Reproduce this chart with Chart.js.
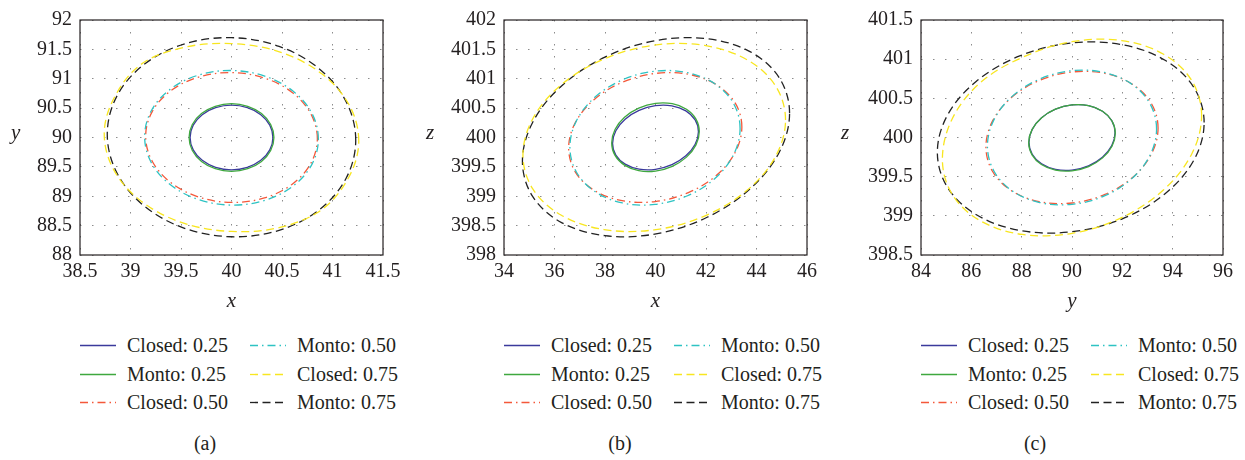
<!DOCTYPE html>
<html>
<head>
<meta charset="utf-8">
<script src="https://cdn.jsdelivr.net/npm/chart.js@4.4.1/dist/chart.umd.min.js"></script>
<style>
  body { margin: 0; background: #fff; width: 1245px; height: 460px; overflow: hidden;
         font-family: "Liberation Serif", "DejaVu Serif", serif; color: #231f20; }
  .panel { position: absolute; top: 0; width: 415px; height: 460px; }
  .panel canvas { position: absolute; left: 0; top: 0; }
  .ylab { position: absolute; left: 11px; top: 122px; font-style: italic; font-size: 21px; line-height: 21px; }
  .legend { position: absolute; top: 331px; font-size: 20px; }
  .item { position: absolute; white-space: nowrap; height: 28px; line-height: 28px; }
  .item svg { position: absolute; left: 0; top: 13px; }
  .item span { position: absolute; left: 47px; top: 0; }
  .cap { position: absolute; top: 429px; left: 175px; width: 60px; text-align: center; font-size: 20px; line-height: 28px; }
</style>
</head>
<body>
<div class="panel" id="pa" style="left:0px"></div>
<div class="panel" id="pb" style="left:415px"></div>
<div class="panel" id="pc" style="left:830px"></div>

<script>
// series labels (legend order: first column top to bottom, then second column)
const seriesNames = ['Closed: 0.25', 'Monto: 0.25', 'Closed: 0.50', 'Monto: 0.50', 'Closed: 0.75', 'Monto: 0.75'];

// ---- panel (a): x vs y ----
const aXTicks = [38.5, 39, 39.5, 40, 40.5, 41, 41.5];
const aYTicks = [88, 88.5, 89, 89.5, 90, 90.5, 91, 91.5, 92];
const aClosed025 = [[40.41,90.00],[40.379,90.21],[40.29,90.389],[40.157,90.508],[40.00,90.55],[39.843,90.508],[39.71,90.389],[39.621,90.21],[39.59,90.00],[39.621,89.79],[39.71,89.611],[39.843,89.492],[40.00,89.45],[40.157,89.492],[40.29,89.611],[40.379,89.79]];
const aMonto025 = [[40.42,90.00],[40.388,90.22],[40.297,90.407],[40.161,90.531],[40.00,90.575],[39.839,90.531],[39.703,90.407],[39.612,90.22],[39.58,90.00],[39.612,89.78],[39.703,89.593],[39.839,89.469],[40.00,89.425],[40.161,89.469],[40.297,89.593],[40.388,89.78]];
const aClosed050 = [[40.85,89.98],[40.785,90.404],[40.601,90.767],[40.325,91.013],[40.00,91.105],[39.675,91.029],[39.399,90.795],[39.215,90.441],[39.15,90.02],[39.215,89.596],[39.399,89.233],[39.675,88.987],[40.00,88.895],[40.325,88.971],[40.601,89.205],[40.785,89.559]];
const aMonto050 = [[40.86,89.975],[40.795,90.415],[40.608,90.791],[40.329,91.045],[40.00,91.14],[39.671,91.061],[39.392,90.819],[39.205,90.452],[39.14,90.015],[39.205,89.575],[39.392,89.20],[39.671,88.945],[40.00,88.85],[40.329,88.929],[40.608,89.171],[40.795,89.538]];
const aClosed075 = [[41.26,89.94],[41.164,90.557],[40.891,91.088],[40.482,91.454],[40.00,91.599],[39.52,91.53],[39.10,91.24],[38.836,90.667],[38.74,90.06],[38.836,89.444],[39.109,88.912],[39.518,88.546],[40.00,88.401],[40.48,88.47],[40.90,88.78],[41.164,89.333]];
const aMonto075 = [[41.23,89.955],[41.136,90.607],[40.87,91.168],[40.471,91.551],[40.00,91.699],[39.529,91.59],[39.13,91.238],[38.864,90.70],[38.77,90.055],[38.864,89.403],[39.13,88.842],[39.529,88.459],[40.00,88.311],[40.471,88.42],[40.87,88.772],[41.136,89.31]];

// ---- panel (b): x vs z ----
const bXTicks = [34, 36, 38, 40, 42, 44, 46];
const bYTicks = [398, 398.5, 399, 399.5, 400, 400.5, 401, 401.5, 402];
const bClosed025 = [[41.70,400.10],[41.571,400.299],[41.202,400.453],[40.651,400.538],[40.00,400.541],[39.349,400.462],[38.798,400.312],[38.429,400.115],[38.30,399.90],[38.429,399.701],[38.798,399.547],[39.349,399.462],[40.00,399.459],[40.651,399.538],[41.202,399.688],[41.571,399.885]];
const bMonto025 = [[41.735,400.102],[41.603,400.315],[41.227,400.481],[40.664,400.575],[40.00,400.581],[39.336,400.50],[38.773,400.344],[38.397,400.136],[38.265,399.908],[38.397,399.695],[38.773,399.529],[39.336,399.435],[40.00,399.429],[40.664,399.51],[41.227,399.666],[41.603,399.874]];
const bClosed050 = [[43.42,400.18],[43.159,400.584],[42.415,400.898],[41.303,401.076],[39.99,401.09],[38.677,400.938],[37.565,400.644],[36.821,400.251],[36.56,399.82],[36.821,399.416],[37.565,399.102],[38.677,398.924],[39.99,398.91],[41.303,399.062],[42.415,399.356],[43.159,399.749]];
const bMonto050 = [[43.35,400.155],[43.094,400.577],[42.363,400.91],[41.27,401.104],[39.98,401.129],[38.69,400.981],[37.597,400.684],[36.866,400.281],[36.61,399.835],[36.866,399.413],[37.597,399.08],[38.69,398.886],[39.98,398.861],[41.27,399.009],[42.363,399.306],[43.094,399.709]];
const bClosed075 = [[45.15,400.30],[44.754,400.879],[43.627,401.323],[41.94,401.567],[39.95,401.572],[37.96,401.337],[36.273,400.899],[35.146,400.324],[34.75,399.70],[35.146,399.121],[36.273,398.677],[37.96,398.433],[39.95,398.428],[41.94,398.663],[43.627,399.101],[44.754,399.676]];
const bMonto075 = [[45.31,400.415],[44.907,401.013],[43.761,401.458],[42.045,401.681],[40.02,401.65],[37.995,401.368],[36.279,400.878],[35.133,400.256],[34.73,399.595],[35.133,398.997],[36.279,398.552],[37.995,398.329],[40.02,398.36],[42.045,398.642],[43.761,399.132],[44.907,399.754]];

// ---- panel (c): y vs z ----
const cXTicks = [84, 86, 88, 90, 92, 94, 96];
const cYTicks = [398.5, 399, 399.5, 400, 400.5, 401, 401.5];
const cClosed025 = [[91.71,400.06],[91.58,400.215],[91.209,400.336],[90.654,400.407],[90.00,400.416],[89.346,400.361],[88.791,400.252],[88.42,400.104],[88.29,399.94],[88.42,399.786],[88.791,399.664],[89.346,399.593],[90.00,399.584],[90.654,399.639],[91.209,399.748],[91.58,399.896]];
const cMonto025 = [[91.72,400.055],[91.589,400.211],[91.216,400.335],[90.658,400.407],[90.00,400.416],[89.342,400.361],[88.784,400.25],[88.411,400.101],[88.28,399.935],[88.411,399.779],[88.784,399.655],[89.342,399.583],[90.00,399.574],[90.658,399.629],[91.216,399.74],[91.589,399.889]];
const cClosed050 = [[93.42,400.12],[93.16,400.431],[92.418,400.676],[91.309,400.819],[90.00,400.836],[88.691,400.727],[87.582,400.507],[86.84,400.209],[86.58,399.88],[86.84,399.569],[87.582,399.324],[88.691,399.181],[90.00,399.164],[91.309,399.273],[92.418,399.493],[93.16,399.791]];
const cMonto050 = [[93.36,400.11],[93.104,400.428],[92.376,400.681],[91.286,400.83],[90.00,400.853],[88.714,400.746],[87.624,400.525],[86.896,400.225],[86.64,399.89],[86.896,399.572],[87.624,399.319],[88.714,399.17],[90.00,399.147],[91.286,399.254],[92.376,399.475],[93.104,399.775]];
const cClosed075 = [[95.15,400.28],[94.758,400.727],[93.642,401.063],[91.971,401.238],[90.00,401.223],[88.029,401.023],[86.358,400.70],[85.242,400.24],[84.85,399.72],[85.242,399.273],[86.358,398.937],[88.029,398.762],[90.00,398.777],[91.971,398.977],[93.642,399.333],[94.758,399.79]];
const cMonto075 = [[95.25,400.19],[94.847,400.637],[93.698,400.986],[91.978,401.186],[89.95,401.205],[87.922,401.041],[86.202,400.718],[85.053,400.286],[84.65,399.81],[85.053,399.363],[86.202,399.014],[87.922,398.814],[89.95,398.795],[91.978,398.959],[93.698,399.282],[94.847,399.714]];

// styles
const seriesColors = ['#3b3a9c', '#3fa83f', '#f4583a', '#2ec3c3', '#f8e620', '#222222'];
const seriesDashes = [[], [], [8, 4, 1.5, 4], [8, 4, 1.5, 4], [8, 4.5], [8, 4.5]];
const seriesOrder = [1, 0, 3, 2, 4, 5];
const ink = '#231f20';
const serif = "'Liberation Serif', 'DejaVu Serif', serif";

Chart.defaults.font.family = serif;
Chart.defaults.color = ink;

// the ellipses are closed curves: join the last point back to the first smoothly
const closeLoops = {
  id: 'closeLoops',
  afterDatasetUpdate(chart, args) {
    const line = args.meta.dataset;
    if (line) { line._loop = true; line._fullLoop = true; }
  }
};

// box around the plot area
const frame = {
  id: 'frame',
  afterDatasetsDraw(chart) {
    const { ctx, chartArea: a } = chart;
    ctx.save();
    ctx.strokeStyle = ink;
    ctx.lineWidth = 1.2;
    ctx.strokeRect(a.left, a.top, a.right - a.left, a.bottom - a.top);
    ctx.restore();
  }
};

function makePanel(p) {
  const host = document.getElementById(p.host);
  const canvas = document.createElement('canvas');
  canvas.width = 415; canvas.height = 320;
  canvas.style.width = '415px'; canvas.style.height = '320px';
  host.appendChild(canvas);

  const ylab = document.createElement('div');
  ylab.className = 'ylab';
  ylab.textContent = p.yTitle;
  host.appendChild(ylab);

  const datasets = p.series.map((pts, i) => ({
    label: seriesNames[i],
    data: pts.map(pt => ({ x: pt[0], y: pt[1] })),
    borderColor: seriesColors[i],
    borderDash: seriesDashes[i],
    borderWidth: 1.3,
    pointRadius: 0,
    tension: 0.35,
    fill: false,
    order: seriesOrder[i]
  }));

  const grid = { color: '#8c8c8c', lineWidth: 1, drawTicks: false, tickLength: 0 };
  const border = { display: false, dash: [1.5, 10.5] };
  const tickFont = { family: serif, size: 20 };

  new Chart(canvas, {
    type: 'line',
    data: { datasets },
    plugins: [closeLoops, frame],
    options: {
      responsive: false,
      animation: false,
      events: [],
      layout: { padding: { left: 0, top: 15, right: p.padRight, bottom: 0 } },
      plugins: { legend: { display: false }, tooltip: { enabled: false } },
      scales: {
        x: {
          type: 'linear', min: p.xTicks[0], max: p.xTicks[p.xTicks.length - 1],
          afterBuildTicks: s => { s.ticks = p.xTicks.map(v => ({ value: v })); },
          afterFit: s => { s.height = 65; },
          grid, border,
          ticks: { padding: 5, font: tickFont, color: ink, maxRotation: 0, autoSkip: false, callback: v => String(v) },
          title: { display: true, text: p.xTitle, color: ink, padding: { top: 0, bottom: 6 },
                   font: { family: serif, size: 21, style: 'italic' } }
        },
        y: {
          type: 'linear', min: p.yTicks[0], max: p.yTicks[p.yTicks.length - 1],
          afterBuildTicks: s => { s.ticks = p.yTicks.map(v => ({ value: v })); },
          afterFit: s => { s.width = p.plotLeft; },
          grid, border,
          ticks: { padding: 8, font: tickFont, color: ink, autoSkip: false, callback: v => String(v) }
        }
      }
    }
  });

  // legend: two columns, three rows
  const legend = document.createElement('div');
  legend.className = 'legend';
  legend.style.left = p.plotLeft + 'px';
  seriesNames.forEach((name, i) => {
    const item = document.createElement('div');
    item.className = 'item';
    item.style.left = (Math.floor(i / 3) * 170) + 'px';
    item.style.top = ((i % 3) * 28.5) + 'px';
    const dash = seriesDashes[i].length ? seriesDashes[i].join(' ') : 'none';
    item.innerHTML = `<svg width="36" height="3"><line x1="0" y1="1.5" x2="36" y2="1.5" stroke="${seriesColors[i]}" stroke-width="1.3" stroke-dasharray="${dash}"/></svg><span>${name}</span>`;
    legend.appendChild(item);
  });
  host.appendChild(legend);

  const cap = document.createElement('div');
  cap.className = 'cap';
  cap.textContent = p.caption;
  host.appendChild(cap);
}

makePanel({ host: 'pa', plotLeft: 80, padRight: 32, xTitle: 'x', yTitle: 'y', caption: '(a)',
            xTicks: aXTicks, yTicks: aYTicks,
            series: [aClosed025, aMonto025, aClosed050, aMonto050, aClosed075, aMonto075] });
makePanel({ host: 'pb', plotLeft: 89, padRight: 23, xTitle: 'x', yTitle: 'z', caption: '(b)',
            xTicks: bXTicks, yTicks: bYTicks,
            series: [bClosed025, bMonto025, bClosed050, bMonto050, bClosed075, bMonto075] });
makePanel({ host: 'pc', plotLeft: 91, padRight: 22, xTitle: 'y', yTitle: 'z', caption: '(c)',
            xTicks: cXTicks, yTicks: cYTicks,
            series: [cClosed025, cMonto025, cClosed050, cMonto050, cClosed075, cMonto075] });
</script>
</body>
</html>
